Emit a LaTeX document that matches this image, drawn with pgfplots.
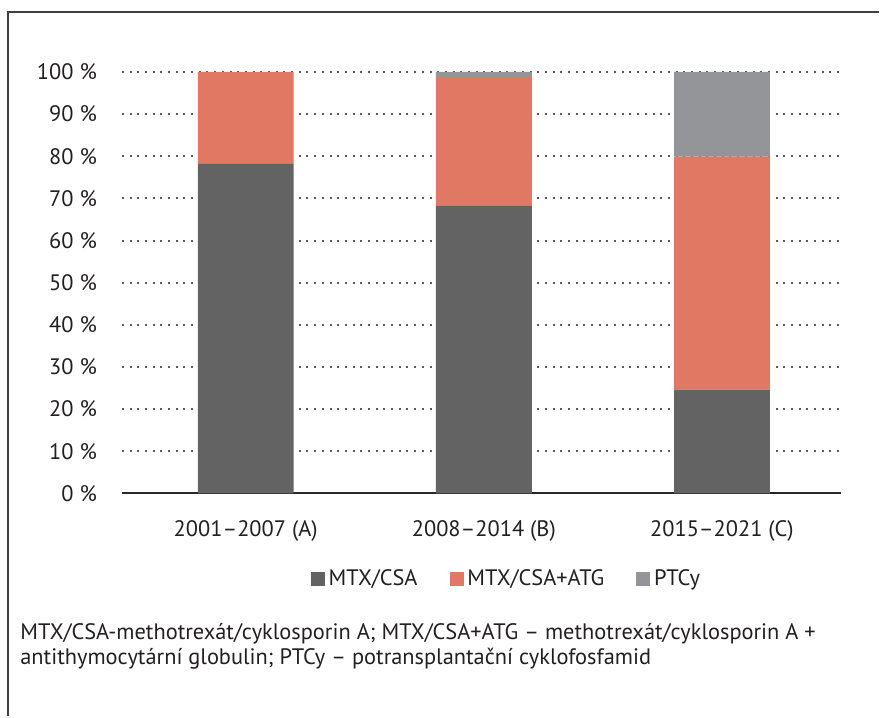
\documentclass[border=0pt]{standalone}
\usepackage{pgfplots}
\pgfplotsset{compat=1.18}
\usepackage{fontspec}
\setmainfont{PT Sans}
\definecolor{cA}{RGB}{99,99,100}
\definecolor{cB}{RGB}{224,120,100}
\definecolor{cC}{RGB}{147,149,152}
\definecolor{txt}{RGB}{35,31,32}
\newcommand{\fs}{\fontsize{11.2}{13.4}\selectfont}
\begin{document}
\begin{tikzpicture}
\path (0pt,0pt) rectangle (440pt,358.5pt);
\draw[line width=1pt, color=black!75] (4pt,0pt) -- (4pt,352.5pt) -- (440pt,352.5pt);
\begin{axis}[
  at={(61pt,111.5pt)}, anchor=south west,
  scale only axis, width=360pt, height=211pt,
  ybar stacked, bar width=48pt,
  xmin=-0.52, xmax=2.5, ymin=0, ymax=100,
  xtick=data,
  xticklabels={2001–2007 (A), 2008–2014 (B), 2015–2021 (C)},
  ytick={0,10,...,100},
  yticklabels={0 \%,10 \%,20 \%,30 \%,40 \%,50 \%,60 \%,70 \%,80 \%,90 \%,100 \%},
  major tick length=0pt,
  axis x line=bottom, axis y line=left,
  x axis line style={-, line width=1pt, color=black!85},
  y axis line style={draw=none},
  ymajorgrids, grid style={line width=1pt, color=black!65, dash pattern=on 1pt off 2.85pt},
  tick label style={font=\fs, color=txt},
  yticklabel style={xshift=-9pt},
  xticklabel style={yshift=-10pt},
  legend columns=3,
  legend style={draw=none, at={(0.536,-0.204)}, anchor=center, font=\fs, text=txt,
    /tikz/every even column/.append style={column sep=14pt}},
  legend image code/.code={\fill[#1] (0pt,-3.5pt) rectangle (7pt,3.5pt);},
  legend cell align=left,
]
\addplot[fill=cA, draw=none] coordinates {(0,78.2) (1,68.2) (2,24.6)};
\addplot[fill=cB, draw=none] coordinates {(0,21.8) (1,30.6) (2,55.3)};
\addplot[fill=cC, draw=none] coordinates {(0,0) (1,1.2) (2,20.1)};
\legend{MTX/CSA, MTX/CSA+ATG, PTCy}
\end{axis}
\node[anchor=base west, inner sep=0, font=\fs, text=txt] at (10pt,38.5pt) {MTX/CSA-methotrexát/cyklosporin A; MTX/CSA+ATG – methotrexát/cyklosporin A +};
\node[anchor=base west, inner sep=0, font=\fs, text=txt] at (10pt,26pt) {antithymocytární globulin; PTCy – potransplantační cyklofosfamid};
\end{tikzpicture}
\end{document}
